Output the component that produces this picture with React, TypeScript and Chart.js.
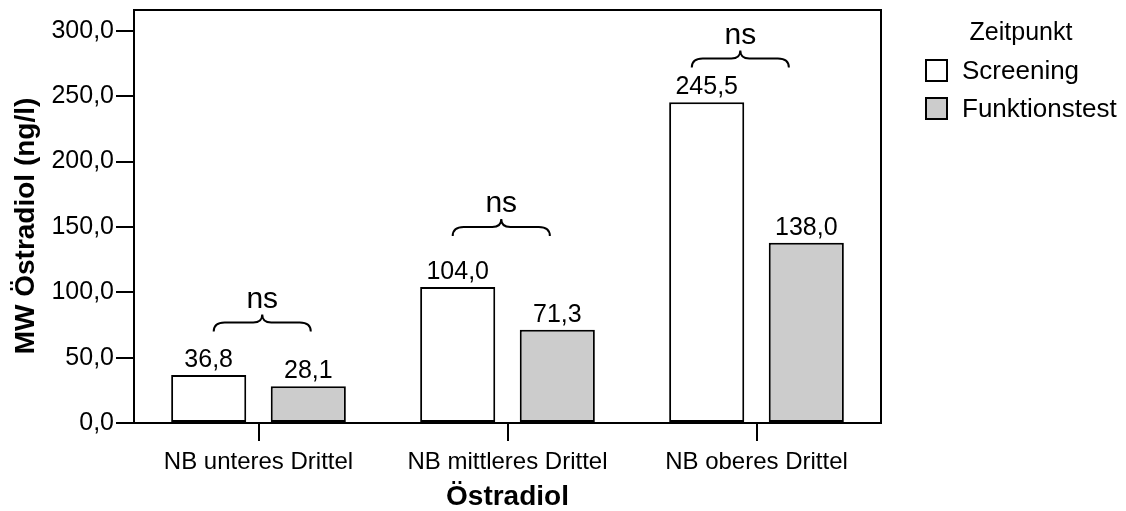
import React, { useEffect, useRef } from "react";
import { Chart, registerables } from "chart.js";

Chart.register(...registerables);

const categories = ["NB unteres Drittel", "NB mittleres Drittel", "NB oberes Drittel"];
const seriesLabels = ["Screening", "Funktionstest"];
const screeningValues = [36.8, 104.0, 245.5];
const funktionstestValues = [28.1, 71.3, 138.0];
const yTicks = [0, 50, 100, 150, 200, 250, 300];
const yMax = 316;
const legendTitle = "Zeitpunkt";
const xAxisTitle = "Östradiol";
const yAxisTitle = "MW Östradiol (ng/l)";
const significanceLabels = ["ns", "ns", "ns"];
// brace annotation: y value of the brace tips, and extents in category units around each category centre
const braceLevels = [70, 143, 272];
const braceLeft = [-0.18, -0.22, -0.26];
const braceRight = [0.21, 0.17, 0.13];

const FONT = "'Liberation Sans', Arial, Helvetica, sans-serif";
const fmt = (v: number) => Number(v).toFixed(1).replace(".", ",");

const annotationPlugin = {
  id: "annotations",
  afterDraw(chart: any) {
    const { ctx, chartArea: ca, scales } = chart;
    const xs = scales.x;
    const ys = scales.y;
    ctx.save();
    // frame around plot
    ctx.strokeStyle = "#000";
    ctx.lineWidth = 2;
    ctx.strokeRect(ca.left, ca.top, ca.right - ca.left, ca.bottom - ca.top);

    // value labels
    ctx.fillStyle = "#000";
    ctx.font = `25px ${FONT}`;
    ctx.textAlign = "center";
    ctx.textBaseline = "alphabetic";
    chart.data.datasets.forEach((ds: any, di: number) => {
      const meta = chart.getDatasetMeta(di);
      meta.data.forEach((bar: any, i: number) => {
        ctx.fillText(fmt(ds.data[i]), bar.x, bar.y - 8);
      });
    });

    // braces + ns
    const catW = xs.getPixelForValue(1) - xs.getPixelForValue(0);
    categories.forEach((_, i) => {
      const c = xs.getPixelForValue(i);
      const x1 = c + braceLeft[i] * catW;
      const x2 = c + braceRight[i] * catW;
      const xc = (x1 + x2) / 2;
      const y0 = ys.getPixelForValue(braceLevels[i]);
      const yh = y0 - 9;
      const yp = y0 - 17;
      const r = 11;
      const r2 = 9;
      ctx.beginPath();
      ctx.moveTo(x1, y0);
      ctx.quadraticCurveTo(x1, yh, x1 + r, yh);
      ctx.lineTo(xc - r2, yh);
      ctx.quadraticCurveTo(xc, yh, xc, yp);
      ctx.quadraticCurveTo(xc, yh, xc + r2, yh);
      ctx.lineTo(x2 - r, yh);
      ctx.quadraticCurveTo(x2, yh, x2, y0);
      ctx.lineWidth = 2;
      ctx.strokeStyle = "#000";
      ctx.stroke();
      ctx.font = `30px ${FONT}`;
      ctx.fillText(significanceLabels[i], xc, yp - 7);
    });

    // y axis title
    ctx.save();
    ctx.translate(26, 226);
    ctx.rotate(-Math.PI / 2);
    ctx.font = `bold 28px ${FONT}`;
    ctx.textAlign = "center";
    ctx.textBaseline = "middle";
    ctx.fillText(yAxisTitle, 0, 0);
    ctx.restore();

    // legend
    ctx.font = `25px ${FONT}`;
    ctx.textAlign = "center";
    ctx.textBaseline = "alphabetic";
    ctx.fillText(legendTitle, 1021, 40);
    ctx.textAlign = "left";
    ctx.font = `26px ${FONT}`;
    chart.data.datasets.forEach((ds: any, di: number) => {
      const top = 60 + di * 38;
      ctx.fillStyle = ds.backgroundColor;
      ctx.fillRect(926, top, 21, 21);
      ctx.strokeStyle = "#000";
      ctx.lineWidth = 2;
      ctx.strokeRect(926, top, 21, 21);
      ctx.fillStyle = "#000";
      ctx.fillText(ds.label, 962, top + 19);
    });
    ctx.restore();
  },
};

export default function App() {
  const ref = useRef<HTMLCanvasElement | null>(null);
  useEffect(() => {
    if (!ref.current) return;
    const chart = new Chart(ref.current, {
      type: "bar",
      data: {
        labels: categories,
        datasets: [
          {
            label: seriesLabels[0],
            data: screeningValues,
            backgroundColor: "#ffffff",
            borderColor: "#000000",
            borderWidth: 2,
            borderSkipped: false,
            categoryPercentage: 0.8,
            barPercentage: 0.754,
          },
          {
            label: seriesLabels[1],
            data: funktionstestValues,
            backgroundColor: "#cccccc",
            borderColor: "#000000",
            borderWidth: 2,
            borderSkipped: false,
            categoryPercentage: 0.8,
            barPercentage: 0.754,
          },
        ],
      },
      options: {
        responsive: false,
        animation: false,
        devicePixelRatio: 1,
        layout: { padding: { top: 10, right: 245, left: 0, bottom: 0 } },
        plugins: { legend: { display: false }, tooltip: { enabled: false } },
        scales: {
          x: {
            grid: {
              display: true,
              drawOnChartArea: false,
              drawTicks: true,
              tickLength: 18,
              offset: false,
              color: "#000",
              lineWidth: 2,
            },
            border: { display: true, color: "#000", width: 2 },
            ticks: {
              color: "#000",
              font: { family: FONT, size: 24 },
              padding: 7,
              maxRotation: 0,
              autoSkip: false,
            },
            title: {
              display: true,
              text: xAxisTitle,
              color: "#000",
              font: { family: FONT, size: 28, weight: "bold", lineHeight: 1 },
              padding: 0,
            },
            afterFit: (s: any) => {
              s.height = 88;
              s.paddingLeft = 0;
              s.paddingRight = 0;
            },
          },
          y: {
            min: 0,
            max: yMax,
            afterBuildTicks: (s: any) => {
              s.ticks = yTicks.map((v) => ({ value: v }));
            },
            grid: {
              display: true,
              drawOnChartArea: false,
              drawTicks: true,
              tickLength: 18,
              color: "#000",
              lineWidth: 2,
            },
            border: { display: true, color: "#000", width: 2 },
            ticks: {
              color: "#000",
              font: { family: FONT, size: 25 },
              padding: 2,
              callback: (v: any) => fmt(v),
            },
            afterFit: (s: any) => {
              s.width = 134;
              s.paddingTop = 0;
              s.paddingBottom = 0;
            },
          },
        },
      },
      plugins: [annotationPlugin],
    } as any);
    return () => chart.destroy();
  }, []);
  return (
    <div style={{ position: "fixed", left: 0, top: 0, width: 1126, height: 511, background: "#fff" }}>
      <canvas ref={ref} width={1126} height={511} />
    </div>
  );
}
